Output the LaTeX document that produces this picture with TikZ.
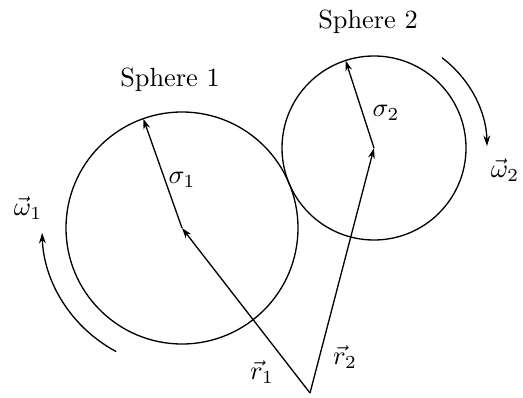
\documentclass[tikz,border=0pt]{standalone}
\usepackage{amssymb}
\usepackage{amsmath}
\usetikzlibrary{arrows.meta,calc}

\begin{document}
\begin{tikzpicture}[x=0.38pt, y=0.38pt, line width=0.5pt, >={Stealth[length=4pt,width=2.6pt]}]
    \useasboundingbox (0,0) rectangle (523,397);
    \coordinate (O) at (310,4);
    \coordinate (C1) at (182,169); \coordinate (C2) at (374,249);
    \coordinate (S1) at ($(C1)+(109.5:116)$); \coordinate (S2) at ($(C2)+(108:92)$);

    \draw (C1) circle (116); \draw (C2) circle (92);

    \draw[->] (O) -- (C1); \draw[->] (O) -- (C2);
    \draw[->] (C1) -- (S1); \draw[->] (C2) -- (S2);

    \draw[->] ($(C1)+(242:140)$) arc[start angle=242, end angle=182, radius=140];
    \draw[->] ($(C2)+(53:113)$) arc[start angle=53, end angle=1, radius=113];

    \node (sp1) at (170,317) {Sphere 1}; \node (sp2) at (368,375) {Sphere 2};
    \node (w1) at (28,189) {\(\vec{\omega}_1\)}; \node (w2) at (505,227) {\(\vec{\omega}_2\)};
    \node (s1) at (182,217) {\(\sigma_1\)}; \node (s2) at (386,284) {\(\sigma_2\)};
    \node (r1) at (262,25) {\(\vec{r}_1\)}; \node (r2) at (345,40) {\(\vec{r}_2\)};
\end{tikzpicture}
\end{document}
